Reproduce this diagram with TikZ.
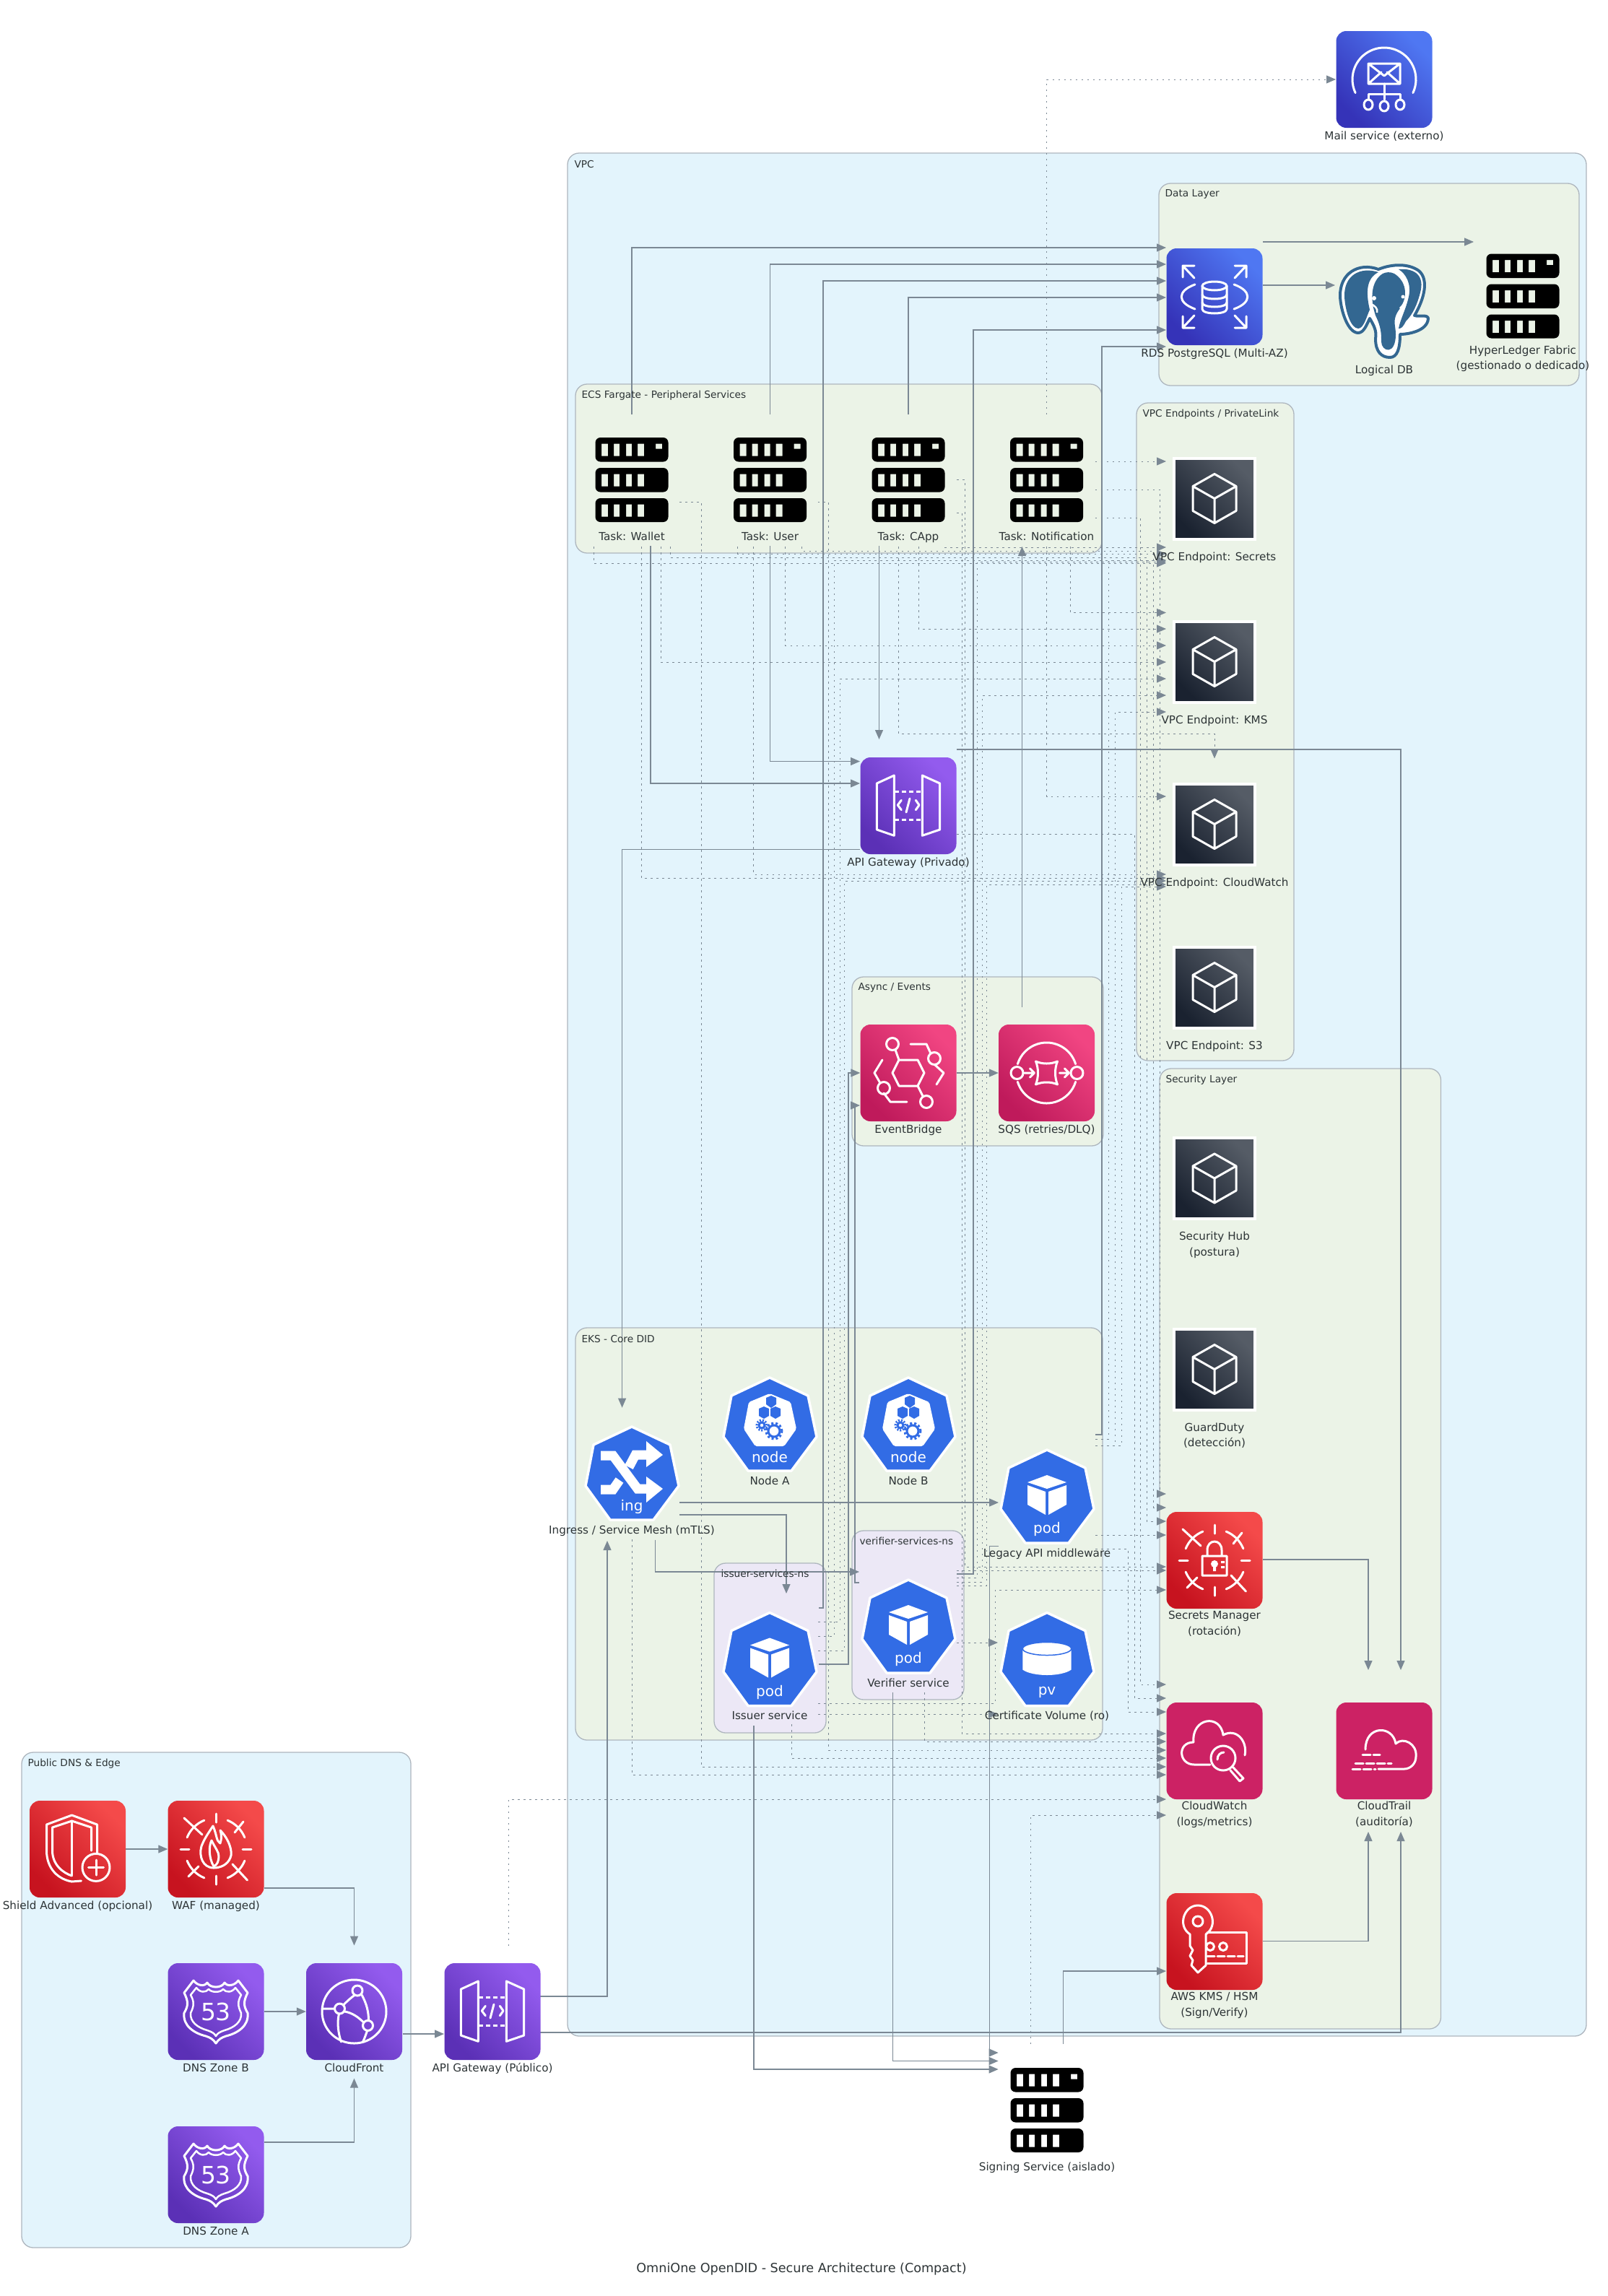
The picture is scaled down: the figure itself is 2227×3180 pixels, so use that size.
\documentclass[tikz,border=0pt]{standalone}
\usepackage{fontspec}
\setmainfont{DejaVu Sans}
\usetikzlibrary{arrows.meta,shadows}

\definecolor{txt}{HTML}{2D3436}
\definecolor{line}{HTML}{7B8894}
\definecolor{rim}{HTML}{AEB6BE}
\definecolor{ltblue}{HTML}{E3F4FC}
\definecolor{ltgreen}{HTML}{EBF3E7}
\definecolor{ltpurple}{HTML}{ECE8F6}
\definecolor{kube}{HTML}{326CE5}
\definecolor{pinkflat}{HTML}{CC2264}
\definecolor{redlo}{HTML}{C7131F}
\definecolor{redhi}{HTML}{F44A4A}
\definecolor{purlo}{HTML}{5B30B6}
\definecolor{purhi}{HTML}{935BEE}
\definecolor{pnklo}{HTML}{BF1A5B}
\definecolor{pnkhi}{HTML}{F14582}
\definecolor{blulo}{HTML}{3533B8}
\definecolor{bluhi}{HTML}{4F77F2}
\definecolor{drklo}{HTML}{1A2230}
\definecolor{drkhi}{HTML}{555C66}
\definecolor{pgblue}{HTML}{336791}

\pgfdeclarelayer{bg}
\pgfdeclarelayer{edges}
\pgfsetlayers{bg,edges,main}

\tikzstyle{lab} = [font=\fontsize{15.2}{21.5}\selectfont, text=txt, align=center, inner sep=0pt, text height=11pt]
\tikzstyle{every label} = [lab]
\tikzstyle{li} = [anchor=north, yshift=-5.5pt]
\tikzstyle{ls} = [anchor=north, yshift=-14.5pt]
\tikzstyle{ld} = [anchor=north, yshift=-17pt]
\tikzstyle{lh} = [anchor=north, yshift=-6pt]
\tikzstyle{lim} = [anchor=north, yshift=-25pt]
\tikzstyle{ldm} = [anchor=north, yshift=-38pt]
\tikzstyle{ct} = [font=\fontsize{13.7}{16}\selectfont, text=txt, anchor=west, inner sep=0pt]
\tikzstyle{clb} = [rectangle, rounded corners=16pt, draw=rim, line width=1.3pt, fill=ltblue]
\tikzstyle{clg} = [clb, fill=ltgreen]
\tikzstyle{clp} = [clb, fill=ltpurple]
\tikzstyle{ic} = [rectangle, rounded corners=14pt, minimum width=133pt, minimum height=134pt, inner sep=0pt]
\tikzstyle{ired} = [ic, bottom color=redlo, top color=redhi, shading angle=-45]
\tikzstyle{ipur} = [ic, bottom color=purlo, top color=purhi, shading angle=-45]
\tikzstyle{ipnk} = [ic, bottom color=pnklo, top color=pnkhi, shading angle=-45]
\tikzstyle{iflat} = [ic, fill=pinkflat]
\tikzstyle{iblu} = [ic, bottom color=blulo, top color=bluhi, shading angle=-45]
\tikzstyle{idrk} = [rectangle, minimum width=112pt, minimum height=112pt, inner sep=0pt, draw=white, line width=4pt, bottom color=drklo, top color=drkhi, shading angle=-45, drop shadow={opacity=.3,shadow xshift=1pt,shadow yshift=-1.5pt}]
\tikzstyle{isrv} = [rectangle, minimum width=101pt, minimum height=117pt, inner sep=0pt]
\tikzstyle{ihex} = [rectangle, minimum width=130pt, minimum height=132pt, inner sep=0pt]
\tikzstyle{ktxt} = [font=\fontsize{20}{20}\selectfont, text=white, inner sep=0pt]
\tikzstyle{rtxt} = [font=\fontsize{33}{33}\selectfont, text=white, inner sep=0pt]
\tikzstyle{flow} = [->, >={Triangle[length=13pt,width=11pt]}, draw=line, line width=1.3pt]
\tikzstyle{dep} = [flow, line width=1pt, dash pattern=on 2.5pt off 5.5pt]
\tikzstyle{gl} = [draw=white, line width=3pt, line join=round, line cap=round]

\tikzset{
  apigw/.pic={
    \draw[gl] (-43.7,-31)--(-19.7,-42)--(-19.7,41.3)--(-43.7,33)--cycle (19.3,-42)--(43.7,-31)--(43.7,33)--(19.3,41.3)--cycle;
    \draw[gl,line cap=butt,dash pattern=on 6pt off 4pt] (-19,-20)--(19,-20) (-19,19)--(19,19);
    \draw[gl] (-9.7,-7.7)--(-14.7,-1)--(-9.7,5.7) (10.3,-7.7)--(15,-1)--(10.3,5.7) (2,-10)--(-3,9);
  },
  rdsi/.pic={
    \draw[gl] (-44,-27)--(-44,-43)--(-28,-43) (-44,-43)--(-28,-26) (44,-27)--(44,-43)--(28,-43) (44,-43)--(28,-26);
    \draw[gl] (-44,27)--(-44,43)--(-28,43) (-44,43)--(-28,26) (44,27)--(44,43)--(28,43) (44,43)--(28,26);
    \draw[gl] (-27,-17) .. controls (-52,-8) and (-52,8) .. (-27,17) (27,-17) .. controls (52,-8) and (52,8) .. (27,17);
    \draw[gl] (0,-15) ellipse (17pt and 6pt);
    \draw[gl] (-17,-15)--(-17,17) .. controls (-17,25) and (17,25) .. (17,17)--(17,-15);
    \draw[gl] (-17,-3) .. controls (-17,5) and (17,5) .. (17,-3) (-17,8) .. controls (-17,16) and (17,16) .. (17,8);
  },
  maili/.pic={
    \draw[gl] (-25:44pt) arc[start angle=-25,end angle=205,radius=44pt];
    \draw[gl] (-22,-22) rectangle (22,6) (-22,-22)--(0,-5)--(22,-22) (-22,6)--(-4,-10) (22,6)--(4,-10);
    \draw[gl] (0,6)--(0,28) (-22,28)--(-22,20)--(22,20)--(22,28);
    \draw[gl] (-22,35) ellipse (6pt and 7pt) (0,37) ellipse (6pt and 7pt) (22,35) ellipse (6pt and 7pt);
  },
  srv/.pic={
    \fill[black,even odd rule,rounded corners=7pt] (-50.5,-58.5) rectangle (50.5,-25) (-50.5,-16.5) rectangle (50.5,17) (-50.5,25.5) rectangle (50.5,58.5)
      [sharp corners] (33,-50) rectangle (42,-43)
      (-42,-50) rectangle (-33,-33) (-25,-50) rectangle (-17,-33) (-8,-50) rectangle (0,-33) (8,-50) rectangle (17,-33)
      (-42,-8) rectangle (-33,9) (-25,-8) rectangle (-17,9) (-8,-8) rectangle (0,9) (8,-8) rectangle (17,9)
      (-42,34) rectangle (-33,51) (-25,34) rectangle (-17,51) (-8,34) rectangle (0,51) (8,34) rectangle (17,51);
  },
  elephant/.pic={
    \path[fill=white,draw=pgblue,line width=4pt,line join=round] (-8,-60) .. controls (-35,-70) and (-62,-55) .. (-61,-22) .. controls (-60,-2) and (-50,28) .. (-36,28) .. controls (-28,28) and (-24,16) .. (-20,8) .. controls (-14,18) and (-10,26) .. (-12,36) .. controls (-12,54) and (-4,62) .. (8,62) .. controls (18,62) and (22,50) .. (22,30) .. controls (32,30) and (60,26) .. (61,8) .. controls (60,2) and (48,6) .. (42,4) .. controls (56,-20) and (62,-46) .. (48,-58) .. controls (34,-68) and (12,-68) .. (-8,-60) -- cycle;
    \fill[pgblue] (-8,-56) .. controls (-33,-64) and (-56,-52) .. (-55,-22) .. controls (-54,-2) and (-46,22) .. (-36,22) .. controls (-28,22) and (-24,4) .. (-20,-4) .. controls (-26,-30) and (-24,-48) .. (-8,-56) -- cycle;
    \fill[pgblue] (-2,-54) .. controls (-18,-44) and (-20,-20) .. (-12,4) .. controls (-4,20) and (-4,30) .. (-4,40) .. controls (-4,54) and (16,60) .. (16,30) .. controls (16,16) and (10,10) .. (22,-6) .. controls (34,-24) and (30,-44) .. (14,-54) .. controls (8,-57) and (2,-56) .. (-2,-54) -- cycle;
    \fill[pgblue] (20,-60) .. controls (44,-62) and (56,-50) .. (50,-28) .. controls (46,-12) and (40,2) .. (30,12) .. controls (26,20) and (24,22) .. (20,22) .. controls (22,10) and (30,-4) .. (34,-22) .. controls (38,-40) and (30,-54) .. (20,-60) -- cycle;
    \draw[white,line width=2.5pt] (-18,-12) .. controls (-14,-10) and (-8,-6) .. (-10,0) (28,-14) .. controls (26,-10) and (24,-8) .. (22,-6);
    \fill[white] (-14,-20) circle (3pt) (26,-22) circle (2.5pt);
  },
  cubei/.pic={
    \draw[gl] (0,-34)--(30,-17)--(30,17)--(0,34)--(-30,17)--(-30,-17)--cycle (-30,-17)--(0,0)--(30,-17) (0,0)--(0,34);
  },
  ringi/.pic={
    \foreach \a in {22,112,202,292} \draw[gl] (\a:43pt) arc[start angle=\a,delta angle=46,radius=43pt];
    \foreach \a in {0,90,180,270} \draw[gl] (\a:37pt)--(\a:49pt);
    \draw[gl] (-44,-43)--(-19,-20) (23,21)--(43.5,43) (26,-23)--(38,-38) (-24,24)--(-38,38);
  },
  wafi/.pic={
    \pic {ringi};
    \draw[gl] (-3,26) .. controls (-18,26) and (-24,10) .. (-20,-4) .. controls (-16,-14) and (-12,-20) .. (-4,-32) .. controls (2,-18) and (0,-12) .. (6,-8) .. controls (8,-14) and (8,-20) .. (6,-26) .. controls (18,-14) and (24,4) .. (20,12) .. controls (16,22) and (6,26) .. (-3,26) -- cycle;
    \draw[gl] (-3,24) .. controls (-10,12) and (-10,-4) .. (-6,-12) .. controls (0,0) and (4,4) .. (4,10) .. controls (4,16) and (2,22) .. (-3,24);
  },
  lockerl/.pic={
    \pic {ringi};
    \draw[gl] (-17,-6) rectangle (17,21) (-10,-6)--(-10,-14) .. controls (-10,-30) and (10,-30) .. (10,-14)--(10,-6);
    \fill[white] (0,5) circle (5pt) (-2,5) rectangle (2,15) (9,1) rectangle (14,4) (9,8) rectangle (14,11);
  },
  shieldi/.pic={
    \draw[gl] (-8,-47)--(27,-34)--(27,5) (-8,-47)--(-43,-34)--(-43,2) .. controls (-43,28) and (-26,42) .. (-8,45)--(5,44);
    \draw[gl] (-8,-39)--(19,-30)--(19,2) (-8,-39)--(-35,-30)--(-35,2) .. controls (-35,22) and (-20,33) .. (-8,37);
    \draw[gl] (-8,-39)--(-8,36);
    \draw[gl] (25.5,25.4) circle (19pt);
    \draw[gl] (25.5,15)--(25.5,36) (15,25.4)--(36,25.4);
  },
  rfsi/.pic={
    \draw[gl] (-31,-43) .. controls (-26,-36) and (-16,-34) .. (-12,-40) .. controls (-8,-32) and (8,-32) .. (12,-40) .. controls (16,-34) and (26,-36) .. (31,-43)--(44,-26) .. controls (38,-14) and (38,-8) .. (44,2) .. controls (46,20) and (30,30) .. (14,34) .. controls (8,36) and (4,38) .. (0,44) .. controls (-4,38) and (-8,36) .. (-14,34) .. controls (-30,30) and (-46,20) .. (-44,2) .. controls (-38,-8) and (-38,-14) .. (-44,-26)--cycle;
    \draw[gl,line width=2.5pt] (-27,-33) .. controls (-22,-26) and (-14,-26) .. (-10,-31) .. controls (-6,-26) and (6,-26) .. (10,-31) .. controls (14,-26) and (22,-26) .. (27,-33)--(35,-23) .. controls (30,-14) and (30,-8) .. (35,2) .. controls (36,14) and (26,22) .. (12,26) .. controls (6,28) and (2,30) .. (0,34) .. controls (-2,30) and (-6,28) .. (-12,26) .. controls (-26,22) and (-36,14) .. (-35,2) .. controls (-30,-8) and (-30,-14) .. (-35,-23)--cycle;
  },
  cfi/.pic={
    \draw[gl] (0,0) ellipse (44.5pt and 44pt);
    \draw[gl] (4.5,-29) circle (7pt) (-20,-4) circle (7pt) (19,19.4) circle (7pt);
    \draw[gl] (1,-23) .. controls (-6,-18) and (-10,-14) .. (-15,-9) (-13,0) .. controls (-2,2) and (6,8) .. (13,15) (10,-24) .. controls (18,-10) and (20,2) .. (20,12) (-21,3) .. controls (-24,16) and (-22,30) .. (-18,42) (18,27) .. controls (16,32) and (15,36) .. (12,42) (-27,-4)--(-44,-4);
  },
  cwi/.pic={
    \draw[gl] (-6,19)--(-28,19) .. controls (-50,19) and (-52,-12) .. (-29,-12) .. controls (-32,-46) and (8,-52) .. (12,-22) .. controls (30,-32) and (46,-14) .. (42,6);
    \draw[gl] (12,10) circle (17pt) (26,23)--(40,38)--(35,42)--(22,27);
    \draw[gl] (4,12) .. controls (4,6) and (8,2) .. (13,2);
  },
  cti/.pic={
    \draw[gl] (-26,-2) .. controls (-26,-36) and (12,-36) .. (16,-10) .. controls (26,-20) and (46,-10) .. (44,8) .. controls (44,18) and (36,25) .. (28,25)--(-8,25);
    \draw[gl,dash pattern=on 11pt off 4pt] (-30,5)--(-6,5) (-40,17)--(10,17) (-44,25)--(-12,25);
  },
  kmsi/.pic={
    \draw[gl] (-23,-28) circle (7pt);
    \draw[gl] (-34,-10) .. controls (-52,-22) and (-42,-50) .. (-23,-50) .. controls (-4,-50) and (6,-22) .. (-12,-10)--(-12,33)--(-23,43)--(-32,33)--(-30,26)--(-34,20)--(-30,12)--(-34,6)--cycle;
    \draw[gl] (-10,-13)--(44,-13)--(44,30)--(-10,30);
    \draw[gl] (-6,7) circle (5.5pt) (12,7) circle (5.5pt);
    \draw[gl,dash pattern=on 10pt off 4pt] (-10,20)--(40,20);
  },
  ebi/.pic={
    \draw[gl] (-13,-18)--(13,-18)--(22,0)--(13,18)--(-13,18)--(-22,0)--cycle;
    \draw[gl] (-22,-40) circle (8.5pt) (36,-20) circle (8.5pt) (-34,21) circle (8.5pt) (25,40) circle (8.5pt);
    \draw[gl] (-18,-32)--(-13,-18) (13,18)--(20,32) (3,-40)--(25,-40)--(31,-27) (37,-11)--(49,0)--(39,16) (-36,-18)--(-47,0)--(-39,14) (-34,28)--(-25,40)--(-2,40);
  },
  sqsi/.pic={
    \draw[gl] (17:42pt) arc[start angle=17,end angle=163,radius=42pt] (197:42pt) arc[start angle=197,end angle=343,radius=42pt];
    \draw[gl] (-41,0) circle (8.5pt) (42,0) circle (8.5pt);
    \draw[gl] (-15,-16) .. controls (-6,-12) and (6,-12) .. (15,-16) .. controls (11,-6) and (11,6) .. (15,16) .. controls (6,12) and (-6,12) .. (-15,16) .. controls (-11,6) and (-11,-6) .. (-15,-16) -- cycle;
    \draw[gl] (-31,0)--(-18,0) (-23,-6)--(-17,0)--(-23,6) (18,0)--(31,0) (25,-6)--(31,0)--(25,6);
  },
  hepta/.pic={
    \fill[kube,draw=white,line width=3.5pt,line join=round] (0,-65)--(53,-40)--(65,17)--(30,64)--(-30,64)--(-64,17)--(-53,-40)--cycle;
  },
  podi/.pic={
    \fill[white] (0,-30)--(27,-20)--(0,-11)--(-27,-20)--cycle (-27,-16)--(-2,-7)--(-2,25)--(-27,11)--cycle (27,-16)--(2,-7)--(2,25)--(27,11)--cycle;
  },
  pvi/.pic={
    \fill[white] (-33.7,-13) -- (-33.7,14) .. controls (-20,24) and (20,24) .. (33.7,14) -- (33.7,-13) -- cycle;
    \fill[white,draw=kube,line width=1.5pt] (0,-15) ellipse (33.7pt and 9pt);
  },
  nodei/.pic={
    \fill[white,rounded corners=2pt] (0,-43)--(29,-31)--(37,6)--(20,30)--(-20,30)--(-36,6)--(-29,-31)--cycle;
    \fill[kube] (-5,-37)--(2,-40)--(9,-37)--(9,-28)--(2,-23)--(-5,-28)--cycle (-15,-22)--(-8,-25)--(-1,-22)--(-1,-12)--(-8,-8)--(-15,-12)--cycle (1,-22)--(8,-25)--(15,-22)--(15,-12)--(8,-8)--(1,-12)--cycle;
    \draw[kube,line width=3pt] (-11,1) circle (4pt);
    \draw[kube,line width=3pt,dash pattern=on 2pt off 2pt] (-11,1) circle (7pt);
    \draw[kube,line width=3pt] (6,9) circle (8pt);
    \draw[kube,line width=3pt,dash pattern=on 3pt off 3pt] (6,9) circle (11pt);
  },
  ingi/.pic={
    \draw[white,line width=13pt,line join=miter] (-43,-25)--(-26,-25)--(8,21)--(22,21);
    \fill[white] (20,4)--(43,21)--(20,40)--cycle;
    \draw[white,line width=13pt] (-43,22)--(-26,22)--(-17,9) (-4,-9)--(5,-26)--(22,-26);
    \fill[white] (20,-45)--(43,-26)--(20,-9)--cycle;
  }
}

\begin{document}
\begin{tikzpicture}[x=1pt,y=-1pt,node distance=191.5pt]
\useasboundingbox (0,0) rectangle (2227,3180);

\begin{pgfonlayer}{bg}
    \node[clb, minimum width=539pt, minimum height=686pt] (pubc) at (299.5,2770) {};
    \node[clb, minimum width=1411pt, minimum height=2608pt] (vpc) at (1491.5,1516) {};
    \node[clg, minimum width=582pt, minimum height=280pt] (datac) at (1896,394) {};
    \node[clg, minimum width=729pt, minimum height=234pt] (ecsc) at (1161.5,649) {};
    \node[clg, minimum width=218pt, minimum height=911pt] (vepc) at (1683,1013.5) {};
    \node[clg, minimum width=389.5pt, minimum height=1330pt] (secc) at (1800.75,2145) {};
    \node[clg, minimum width=348pt, minimum height=234pt] (asyncc) at (1354,1470) {};
    \node[clg, minimum width=730pt, minimum height=571pt] (eksc) at (1162,2124.5) {};
    \node[clp, minimum width=155pt, minimum height=235pt] (issc) at (1066.5,2282.5) {};
    \node[clp, minimum width=155pt, minimum height=234pt] (verc) at (1257.5,2237) {};
\end{pgfonlayer}

    \node[ct] (pubt) at ([shift={(9,16)}]pubc.north west) {Public DNS \& Edge};
    \node[ct] (vpct) at ([shift={(10,16)}]vpc.north west) {VPC};
    \node[ct] (datat) at ([shift={(9,16)}]datac.north west) {Data Layer};
    \node[ct] (ecst) at ([shift={(9,16)}]ecsc.north west) {ECS Fargate - Peripheral Services};
    \node[ct] (vept) at ([shift={(9,16)}]vepc.north west) {VPC Endpoints / PrivateLink};
    \node[ct] (sect) at ([shift={(9,16)}]secc.north west) {Security Layer};
    \node[ct] (asynct) at ([shift={(9,16)}]asyncc.north west) {Async / Events};
    \node[ct] (ekst) at ([shift={(9,16)}]eksc.north west) {EKS - Core DID};
    \node[ct] (isst) at ([shift={(10,15)}]issc.north west) {issuer-services-ns};
    \node[ct] (vert) at ([shift={(11,15)}]verc.north west) {verifier-services-ns};

    % edge services
    \node[ired, label={[li]below:{Shield Advanced (opcional)}}] (shield) at (107.5,2561) {};
    \node[ired, label={[li]below:{WAF (managed)}}] (waf) [right of=shield] {};
    \node[ipur, label={[li]below:{DNS Zone B}}] (dnsb) [below of=waf, node distance=225pt] {};
    \node[ipur, label={[li]below:{CloudFront}}] (cf) [right of=dnsb] {};
    \node[ipur, label={[li]below:{API Gateway (Público)}}] (apipub) [right of=cf] {};
    \node[ipur, label={[li]below:{DNS Zone A}}] (dnsa) [below of=dnsb, node distance=226pt] {};

    % data layer
    \node[iblu, label={[li]below:{Mail service (externo)}}] (mail) at (1917,110) {};
    \node[iblu, label={[li]below:{RDS PostgreSQL (Multi-AZ)}}] (rds) at (1682,411) {};
    \node[rectangle, minimum width=125pt, minimum height=127pt, inner sep=0pt, label={[anchor=north, yshift=-10pt]below:{Logical DB}}] (logical) at (1917,433) {};
    \node[isrv, label={[anchor=north, yshift=-32pt]below:{HyperLedger Fabric\\(gestionado o dedicado)}}] (hyper) at (2109,410) {};

    % ecs tasks
    \node[isrv, label={[ls]below:{Task: Wallet}}] (wallet) at (875,664.5) {};
    \node[isrv, label={[ls]below:{Task: User}}] (user) [right of=wallet] {};
    \node[isrv, label={[ls]below:{Task: CApp}}] (capp) [right of=user] {};
    \node[isrv, label={[ls]below:{Task: Notification}}] (notif) [right of=capp] {};
    \node[isrv, label={[ls]below:{Signing Service (aislado)}}] (signing) at (1450,2922.5) {};

    % endpoints
    \node[idrk, label={[ld]below:{VPC Endpoint: Secrets}}] (epsec) at (1682,690.5) {};
    \node[idrk, label={[ld]below:{VPC Endpoint: KMS}}] (epkms) [below of=epsec, node distance=226pt] {};
    \node[idrk, label={[ld]below:{VPC Endpoint: CloudWatch}}] (epcw) [below of=epkms, node distance=225pt] {};
    \node[idrk, label={[ld]below:{VPC Endpoint: S3}}] (eps) [below of=epcw, node distance=226pt] {};

    % security
    \node[idrk, label={[ldm]below:{Security Hub\\(postura)}}] (sechub) at (1682,1632) {};
    \node[idrk, label={[ldm]below:{GuardDuty\\(detección)}}] (guard) at (1682,1896.5) {};
    \node[ired, label={[lim]below:{Secrets Manager\\(rotación)}}] (secmgr) at (1682,2161) {};
    \node[iflat, label={[lim]below:{CloudWatch\\(logs/metrics)}}] (cw) at (1682,2425) {};
    \node[iflat, label={[lim]below:{CloudTrail\\(auditoría)}}] (trail) at (1917,2425) {};
    \node[ired, label={[lim]below:{AWS KMS / HSM\\(Sign/Verify)}}] (kms) at (1682,2689) {};

    % async and api
    \node[ipur, label={[li]below:{API Gateway (Privado)}}] (api) at (1258,1116) {};
    \node[ipnk, label={[li]below:{EventBridge}}] (eb) at (1258,1486) {};
    \node[ipnk, label={[li]below:{SQS (retries/DLQ)}}] (sqs) [right of=eb] {};

    % eks
    \node[ihex, label={[lh]below:{Ingress / Service Mesh (mTLS)}}] (ingress) at (875,2041) {};
    \node[ihex, label={[lh]below:{Node A}}] (nodea) at (1066,1973) {};
    \node[ihex, label={[lh]below:{Node B}}] (nodeb) [right of=nodea, node distance=192pt] {};
    \node[ihex, label={[lh]below:{Legacy API middleware}}] (legacy) at (1450,2073) {};
    \node[ihex, label={[lh]below:{Issuer service}}] (issuer) at (1066,2298.5) {};
    \node[ihex, label={[lh]below:{Verifier service}}] (verifier) at (1258,2253) {};
    \node[ihex, label={[lh]below:{Certificate Volume (ro)}}] (pvol) at (1450,2298.5) {};

    % glyphs
    \pic at (shield.center) {shieldi};
    \pic at (waf.center) {wafi};
    \pic at (dnsb.center) {rfsi};
    \pic at (dnsa.center) {rfsi};
    \pic at (cf.center) {cfi};
    \pic at (apipub.center) {apigw};
    \pic at (api.center) {apigw};
    \pic at (mail.center) {maili};
    \pic at (rds.center) {rdsi};
    \pic at (logical.center) {elephant};
    \pic at (hyper.center) {srv};
    \pic at (wallet.center) {srv};
    \pic at (user.center) {srv};
    \pic at (capp.center) {srv};
    \pic at (notif.center) {srv};
    \pic at (signing.center) {srv};
    \pic at (epsec.center) {cubei};
    \pic at (epkms.center) {cubei};
    \pic at (epcw.center) {cubei};
    \pic at (eps.center) {cubei};
    \pic at (sechub.center) {cubei};
    \pic at (guard.center) {cubei};
    \pic at (secmgr.center) {lockerl};
    \pic at (cw.center) {cwi};
    \pic at (trail.center) {cti};
    \pic at (kms.center) {kmsi};
    \pic at (eb.center) {ebi};
    \pic at (sqs.center) {sqsi};
    \pic at (ingress.center) {hepta};
    \pic at (ingress.center) {ingi};
    \pic at (nodea.center) {hepta};
    \pic at (nodea.center) {nodei};
    \pic at (nodeb.center) {hepta};
    \pic at (nodeb.center) {nodei};
    \pic at (legacy.center) {hepta};
    \pic at (legacy.center) {podi};
    \pic at (issuer.center) {hepta};
    \pic at (issuer.center) {podi};
    \pic at (verifier.center) {hepta};
    \pic at (verifier.center) {podi};
    \pic at (pvol.center) {hepta};
    \pic at (pvol.center) {pvi};

    \node[rtxt] (dnsbt) at (dnsb.center) {53};
    \node[rtxt] (dnsat) at (dnsa.center) {53};
    \node[ktxt] (ingt) at ([shift={(0,46)}]ingress.center) {ing};
    \node[ktxt] (nodeat) at ([shift={(0,45)}]nodea.center) {node};
    \node[ktxt] (nodebt) at ([shift={(0,45)}]nodeb.center) {node};
    \node[ktxt] (legacyt) at ([shift={(0,45)}]legacy.center) {pod};
    \node[ktxt] (issuert) at ([shift={(0,45)}]issuer.center) {pod};
    \node[ktxt] (verifiert) at ([shift={(0,45)}]verifier.center) {pod};
    \node[ktxt] (pvolt) at ([shift={(0,45)}]pvol.center) {pv};

    \node[font=\fontsize{17.6}{20}\selectfont, text=txt, inner sep=0pt] (title) at (1110,3143) {OmniOne OpenDID - Secure Architecture (Compact)};

\begin{pgfonlayer}{edges}
    \draw[flow] (shield) -- (waf);
    \draw[flow] ([shift={(66.5,54)}]waf.center) -| ([shift={(0,-91.5)}]cf.center);
    \draw[flow] (dnsb) -- (cf);
    \draw[flow] ([shift={(66.5,-45)}]dnsa.center) -| ([shift={(0,92.6)}]cf.center);
    \draw[flow] ([shift={(67,31)}]cf.center) -- ([shift={(-67,31)}]apipub.center);
    \draw[flow] ([shift={(66,-21)}]apipub.center) -| ([shift={(-34,93)}]ingress.center);
    \draw[flow] ([shift={(66,29)}]apipub.center) -| ([shift={(23,112)}]trail.center);

    \draw[flow] ([shift={(0,-90.5)}]wallet.center) |- ([shift={(-67,-68)}]rds.center);
    \draw[flow] ([shift={(0,-90.5)}]user.center) |- ([shift={(-67,-45)}]rds.center);
    \draw[flow] ([shift={(0,-90.5)}]capp.center) |- ([shift={(-67,1)}]rds.center);
    \draw[flow] ([shift={(68,-71.5)}]issuer.center) -- ++(6,0) |- ([shift={(-67,-22)}]rds.center);
    \draw[flow] ([shift={(67,-73)}]verifier.center) -- ++(23,0) |- ([shift={(-67,46)}]rds.center);
    \draw[flow] ([shift={(67,-86)}]legacy.center) -- ++(9,0) |- ([shift={(-67,69)}]rds.center);
    \draw[flow] ([shift={(67,-16)}]rds.center) -- ([shift={(-68,-38)}]logical.center);
    \draw[flow] ([shift={(67,-76)}]rds.center) -- ([shift={(-68,-75)}]hyper.center);

    \draw[flow] ([shift={(26,91.5)}]wallet.center) |- ([shift={(-67,-31)}]api.center);
    \draw[flow] ([shift={(0,91.5)}]user.center) |- ([shift={(-67,-61.5)}]api.center);
    \draw[flow] ([shift={(-40.5,91.5)}]capp.center) -- ([shift={(-40.5,-92)}]api.center);
    \draw[flow] ([shift={(-67,60.5)}]api.center) -| ([shift={(-13.4,-91.4)}]ingress.center);
    \draw[flow] ([shift={(67,-78)}]api.center) -| ([shift={(23,-112)}]trail.center);

    \draw[flow] ([shift={(66,40)}]ingress.center) -- ([shift={(-67,8)}]legacy.center);
    \draw[flow] ([shift={(66,57)}]ingress.center) -| ([shift={(23,-91.5)}]issuer.center);
    \draw[flow] ([shift={(32.5,91.6)}]ingress.center) |- ([shift={(-68,-76)}]verifier.center);
    \draw[flow] ([shift={(68,6.5)}]issuer.center) -- ++(41,0) |- (eb.west);
    \draw[flow] ([shift={(-68,-61)}]verifier.center) -- ++(-6,0) |- ([shift={(-67,45)}]eb.center);
    \draw[flow] (eb) -- (sqs);
    \draw[flow] ([shift={(-34,-91)}]sqs.center) -- ([shift={(-34,92.5)}]notif.center);

    \draw[flow] ([shift={(-22,91.5)}]issuer.center) |- ([shift={(-67.4,-56.5)}]signing.center);
    \draw[flow] ([shift={(-21.4,91)}]verifier.center) |- ([shift={(-67.4,-68)}]signing.center);
    \draw[flow] ([shift={(-67,68.5)}]legacy.center) -- ++(-12.5,0) |- ([shift={(-67.4,-79.5)}]signing.center);
    \draw[flow] ([shift={(22.6,-91.5)}]signing.center) |- ([shift={(-67,41)}]kms.center);
    \draw[flow] ([shift={(67,-1)}]secmgr.center) -| ([shift={(-22,-112)}]trail.center);
    \draw[flow] ([shift={(67,-0.5)}]kms.center) -| ([shift={(-22,112)}]trail.center);

    % wallet
    \draw[dep] ([shift={(-53,92.5)}]wallet.center) |- ([shift={(-67,89.5)}]epsec.center);
    \draw[dep] ([shift={(13,92.5)}]wallet.center) |- ([shift={(-67,74.5)}]epcw.center);
    \draw[dep] ([shift={(40,92.5)}]wallet.center) |- ([shift={(-67,0.5)}]epkms.center);
    \draw[dep] ([shift={(53,92.5)}]wallet.center) -- ++(0,15) -- ++(660,0) |- ([shift={(-67,-54)}]secmgr.center);
    \draw[dep] ([shift={(66,30.5)}]wallet.center) -- ++(30,0) |- ([shift={(-67,22)}]cw.center);
    % user
    \draw[dep] ([shift={(-45,92.5)}]user.center) |- ([shift={(-67,76.5)}]epsec.center);
    \draw[dep] ([shift={(-23,92.5)}]user.center) |- ([shift={(-67,69.5)}]epcw.center);
    \draw[dep] ([shift={(21,92.5)}]user.center) |- ([shift={(-67,-22.5)}]epkms.center);
    \draw[dep] ([shift={(44,92.5)}]user.center) -- ++(0,6) -- ++(487,0) |- ([shift={(-67,-73)}]secmgr.center);
    \draw[dep] ([shift={(66,30.5)}]user.center) -- ++(15,0) |- ([shift={(-67,-1)}]cw.center);
    % capp
    \draw[dep] ([shift={(50,93.5)}]capp.center) -- ([shift={(-67,67.5)}]epsec.center);
    \draw[dep] ([shift={(14,92.5)}]capp.center) |- ([shift={(-67,-45.5)}]epkms.center);
    \draw[dep] ([shift={(-14,92.5)}]capp.center) -- ++(0,259) -| ([shift={(0,-91)}]epcw.center);
    \draw[dep] ([shift={(67,-0.5)}]capp.center) -- ++(11,0) |- ([shift={(-67,9)}]secmgr.center);
    \draw[dep] ([shift={(67,45.5)}]capp.center) -- ++(7,0) |- ([shift={(-67,-24)}]cw.center);
    % notification
    \draw[dep] ([shift={(67,-25.5)}]notif.center) -- ([shift={(-67,-51.5)}]epsec.center);
    \draw[dep] ([shift={(33,92.5)}]notif.center) |- ([shift={(-67,-68)}]epkms.center);
    \draw[dep] ([shift={(0,92.5)}]notif.center) |- ([shift={(-67,-38.5)}]epcw.center);
    \draw[dep] ([shift={(67,13.5)}]notif.center) -- ++(90,0) |- ([shift={(-67,-92)}]secmgr.center);
    \draw[dep] ([shift={(67,52.5)}]notif.center) -- ++(63,0) |- ([shift={(-67,-92)}]cw.center);
    \draw[dep] ([shift={(0,-90.5)}]notif.center) |- ([shift={(-67,0)}]mail.center);
    % issuer
    \draw[dep] ([shift={(67,-32.5)}]issuer.center) -- ++(22,0) |- ([shift={(-67,85.5)}]epsec.center);
    \draw[dep] ([shift={(67,-52.5)}]issuer.center) -- ++(30,0) |- ([shift={(-67,23.5)}]epkms.center);
    \draw[dep] ([shift={(67,-12.5)}]issuer.center) -- ++(36,0) |- ([shift={(-67,78.5)}]epcw.center);
    \draw[dep] ([shift={(67,60.5)}]issuer.center) -- ++(245,0) |- ([shift={(-67,41)}]secmgr.center);
    \draw[dep] ([shift={(67,75.5)}]issuer.center) -- ([shift={(-68,75.5)}]pvol.center);
    \draw[dep] ([shift={(30,89.5)}]issuer.center) |- ([shift={(-67,10)}]cw.center);
    % verifier
    \draw[dep] ([shift={(67,-68)}]verifier.center) -- ++(28,0) |- ([shift={(-67,87.5)}]epsec.center);
    \draw[dep] ([shift={(67,-62)}]verifier.center) -- ++(35,0) |- ([shift={(-67,46.5)}]epkms.center);
    \draw[dep] ([shift={(67,-57)}]verifier.center) -- ++(41,0) |- ([shift={(-67,83.5)}]epcw.center);
    \draw[dep] ([shift={(67,-78)}]verifier.center) -- ([shift={(-67,14)}]secmgr.center);
    \draw[dep] ([shift={(67,22)}]verifier.center) -- ([shift={(-68,-23.5)}]pvol.center);
    \draw[dep] ([shift={(22,91)}]verifier.center) |- ([shift={(-67,-13)}]cw.center);
    % legacy
    \draw[dep] ([shift={(67,-80)}]legacy.center) -- ++(18,0) |- ([shift={(-67,85.5)}]epsec.center);
    \draw[dep] ([shift={(67,-71)}]legacy.center) -- ++(27,0) |- ([shift={(-67,69.5)}]epkms.center);
    \draw[dep] ([shift={(67,-71)}]legacy.center) -- ++(36,0) |- ([shift={(-67,86.5)}]epcw.center);
    \draw[dep] ([shift={(67,53)}]legacy.center) -- ([shift={(-67,-35)}]secmgr.center);
    \draw[dep] ([shift={(67,72)}]legacy.center) -- ++(45,0) |- ([shift={(-67,-54)}]cw.center);
    % the rest
    \draw[dep] ([shift={(67,39)}]api.center) -- ++(246,0) |- ([shift={(-67,-73)}]cw.center);
    \draw[dep] ([shift={(0,91)}]ingress.center) |- ([shift={(-67,33)}]cw.center);
    \draw[dep] ([shift={(-23,-91.5)}]signing.center) |- ([shift={(-67,89)}]cw.center);
    \draw[dep] ([shift={(22,-91)}]apipub.center) |- ([shift={(-67,67)}]cw.center);
\end{pgfonlayer}

\end{tikzpicture}
\end{document}
